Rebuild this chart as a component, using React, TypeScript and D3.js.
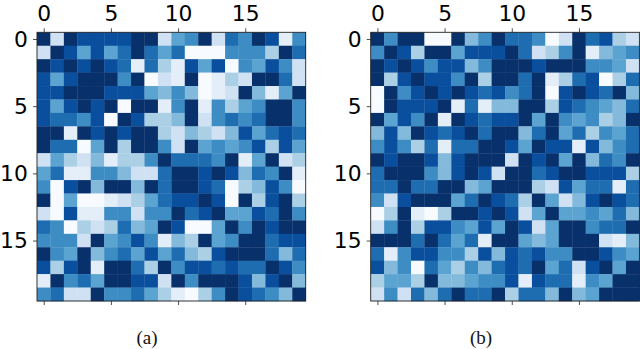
import React, { useRef, useEffect } from "react";
import * as d3 from "d3";

// Blues levels, 0 = palest, 8 = darkest
const panelA = [
  [8,2,8,7,7,7,7,8,8,2,4,5,8,2,6,5,8,7,1,5],
  [2,8,7,4,7,4,6,8,6,4,6,0,0,0,5,5,5,3,8,6],
  [8,7,8,7,8,7,6,1,6,3,1,7,4,7,0,5,4,7,5,2],
  [7,4,7,8,8,8,5,8,0,2,1,8,0,1,3,2,8,8,6,2],
  [7,7,8,8,8,7,7,7,4,3.5,5,3.5,0,1,2,8,3.5,1,4,8],
  [7,4,7,8,7,8,0,8,8,1,5,8,1,5,3,4,5,8,8,5],
  [7,6,6,5,7,0,8,7,3,3,3.5,8,2,5,6,5,6,8,8,5],
  [8,8,1,8,7,8,7,8,8,3,2,3.5,3,2,3.5,7,4,6,7,6],
  [8,6,6,0,4,8,3,8,8,5,2,8,4,5,4,5,7,3,7,4],
  [2,4,3,2,3.5,1,3,3,5,8,6,6,6,5,8,1,4,8,2,3],
  [4,6,1,1,5,5,3.5,2,2,6,8,8,7,8,7,3.5,6,5,8,1],
  [5,0,7,8,3.5,8,8,3.5,8,6,8,8,7,6,0,3,3.5,7,5,0],
  [8,0,4,0,0,1,2,3,4,6,7,7,8,7,0,8,3,7,8,3],
  [2,0,7,1,1,5,5,2,5,5,8,6,7,8,4,4,7,6,8,5],
  [6,5,0,3,2,3,6,3.5,4,8,7,0,0,4,8,5,8,7,8,8],
  [5,5,5,2,8,4,5,7,5,1,3.5,3,8,4,5,8,8,6,7,7],
  [8,5,4,8,3.5,5,6,4,7,4,6,3.5,3,7,8,8,8,6,3.5,6],
  [7,3,7,8,1,8,8,6,3,8,5,7,7,6,7,6,6,8,7,5],
  [1,8,5,6,4,8,8,7,7,2,8,5,8,8,8,7,3.5,7,8,3.5],
  [5,6,2,2,8,5,5,6,4,3,1,0,3,5,8,7,6,5,3.5,8],
];

const panelB = [
  [8,5,8,8,0,0,8,3.5,5,8,6,6,5,0,2,8,6,7,3,2],
  [5,8,7,3,8,8,4,7,7,7,8,6,2,3,5,8,1,3.5,4,5],
  [8,7,8,7,5,7,7,3.5,5,8,8,8,7,8,8,8,5,5,4,2],
  [8,3,7,8,7,7,5,8,3,8,8,6,8,1,3,6,7,0,3,6],
  [0,8,5,7,8,7,8,7,6,7,5,6,8,0,7,8,7,6,8,3.5],
  [0,8,7,7,7,8,1,6,1,3.5,3.5,8,8,3,7,6,5,4,3.5,6],
  [8,4,7,5,8,1,8,7,6,7,7,8,4,8,5,4,5,3,3.5,8],
  [3.5,7,3.5,8,7,6,7,8,6,8,8,3.5,6,8,4,6,3,5,4,6],
  [5,7,5,3,6,1,6,6,8,8,7,4,8,7,7,1,7,3.5,5,6],
  [8,7,8,8,7,3.5,7,8,8,8,2,8,7,8,4,8,3.5,6,5,8],
  [6,8,8,8,5,3.5,7,8,7,2,8,8,6,7,8,8,7,7,7,3],
  [6,6,8,6,6,8,8,3.5,4,8,8,8,3,2,7,4,6,6,1,6],
  [5,2,7,8,8,8,4,6,8,7,6,3,8,4,2,3.5,7,8,7,6],
  [0,3,8,1,0,3,8,8,7,8,7,2,4,8,4,4,5,4,6,3.5],
  [2,5,8,3,7,7,5,4,7,4,8,7,2,4,8,8,5,6,6,8],
  [8,8,8,6,8,6,4,6,1,8,8,4,3.5,4,8,8,8,2,1,3.5],
  [6,1,5,7,7,5,5,3,7,3.5,7,6,7,5,5,8,8,7,5,4],
  [7,3.5,5,0,6,4,3,5,3.5,6,7,6,8,4,6,2,7,8,4,8],
  [3,4,4,3,8,3.5,3.5,4,5,5,7,1,7,6,6,1,5,4,8,8],
  [2,5,2,6,3.5,6,8,6,6,8,3,6,6,3.5,8,3.5,4,8,8,8],
];

const ticks = [0, 5, 10, 15];
const blues = ["#f7fbff", "#e3eef9", "#cfe1f2", "#abd0e6", "#5ba3d0", "#3d8dc4", "#1f6db1", "#0a4f9e", "#08306b"];

const top = 32.3;
const bottom = 301;

const Heatmap = ({ data, left, right, caption, captionX }: { data: number[][]; left: number; right: number; caption: string; captionX: number }) => {
  const ref = useRef<SVGGElement>(null);

  useEffect(() => {
    const g = d3.select(ref.current);
    g.selectAll("*").remove();

    const xScale = d3.scaleLinear().domain([-0.5, 19.5]).range([left, right]);
    const yScale = d3.scaleLinear().domain([-0.5, 19.5]).range([top, bottom]);
    const color = d3.scaleLinear<string>().domain(d3.range(9)).range(blues);

    g.selectAll(".row")
      .data(data)
      .enter().append("g")
      .attr("class", "row")
      .selectAll("rect")
      .data((row, i) => row.map((v, j) => ({ v, i, j })))
      .enter().append("rect")
      .attr("x", d => xScale(d.j - 0.5))
      .attr("y", d => yScale(d.i - 0.5))
      .attr("width", xScale(1) - xScale(0) + 0.3)
      .attr("height", yScale(1) - yScale(0) + 0.3)
      .attr("fill", d => color(d.v));

    const xTop = g.append("g")
      .attr("transform", "translate(0," + top + ")")
      .call(d3.axisTop(xScale).tickValues(ticks).tickSize(4).tickPadding(7.8));
    const xBottom = g.append("g")
      .attr("transform", "translate(0," + bottom + ")")
      .call(d3.axisBottom(xScale).tickValues(ticks).tickSize(4).tickFormat(() => ""));
    const yLeft = g.append("g")
      .attr("transform", "translate(" + left + ",0)")
      .call(d3.axisLeft(yScale).tickValues(ticks).tickSize(4).tickPadding(5.2));

    [xTop, xBottom, yLeft].forEach(axis => {
      axis.select(".domain").remove();
      axis.selectAll("text")
        .attr("font-family", "'DejaVu Sans'")
        .attr("font-size", 21.8)
        .attr("fill", "#000");
      axis.selectAll("line").attr("stroke", "#222").attr("stroke-width", 0.8);
    });

    g.append("rect")
      .attr("x", left)
      .attr("y", top)
      .attr("width", right - left)
      .attr("height", bottom - top)
      .attr("fill", "none")
      .attr("stroke", "#222")
      .attr("stroke-width", 0.9);

    g.append("text")
      .attr("x", captionX)
      .attr("y", 344)
      .attr("text-anchor", "middle")
      .attr("font-family", "'Liberation Serif'")
      .attr("font-size", 19)
      .attr("fill", "#111")
      .text(caption);
  }, [data, left, right, caption, captionX]);

  return <g ref={ref}></g>;
};

export default function App() {
  return (
    <svg width={640} height={349} style={{ position: "absolute", left: 0, top: 0, background: "#fff" }}>
      <Heatmap data={panelA} left={37} right={305.7} caption="(a)" captionX={147} />
      <Heatmap data={panelB} left={370.7} right={639.4} caption="(b)" captionX={481} />
    </svg>
  );
}
